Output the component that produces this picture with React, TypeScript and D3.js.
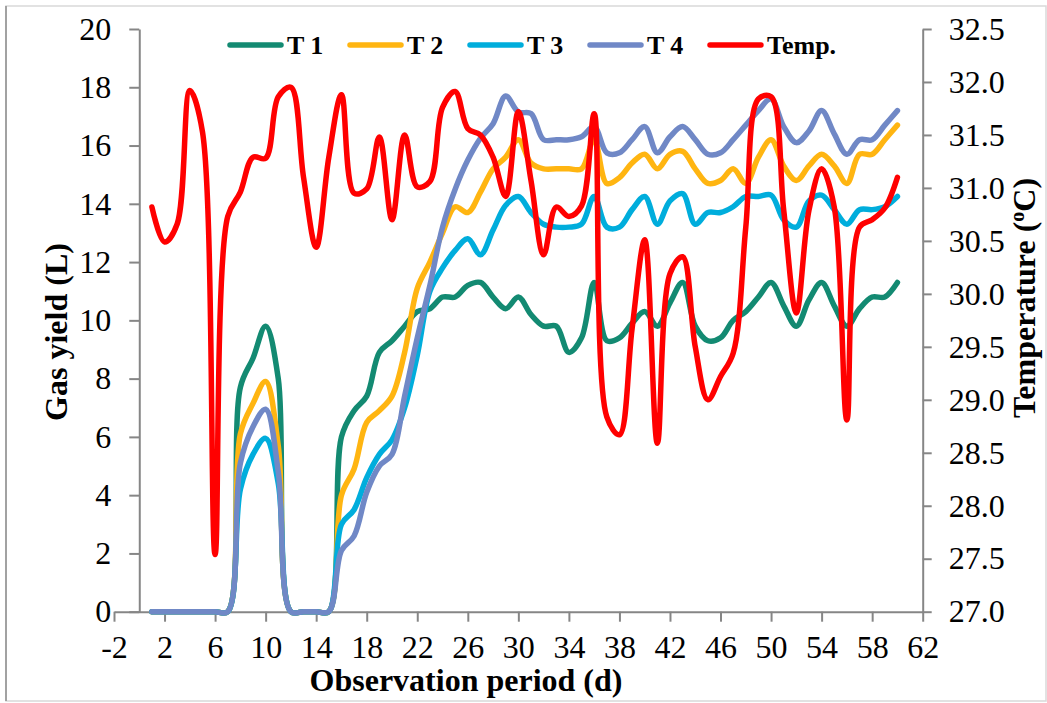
import React, { useEffect, useRef } from 'react';
import * as d3 from 'd3';

// observation day
const days = [
  1, 2, 3, 4, 5, 6, 7, 8, 9, 10, 11, 12, 13, 14, 15, 16, 17, 18, 19, 20,
  21, 22, 23, 24, 25, 26, 27, 28, 29, 30, 31, 32, 33, 34, 35, 36, 37, 38, 39, 40,
  41, 42, 43, 44, 45, 46, 47, 48, 49, 50, 51, 52, 53, 54, 55, 56, 57, 58, 59, 60,
];

// gas yield (L)
const t1 = [
  0, 0, 0, 0, 0, 0, 0, 7.7, 8.7, 9.8, 8.0, 0, 0, 0, 0, 6.0, 6.9, 7.4, 8.9, 9.3,
  9.8, 10.3, 10.4, 10.8, 10.8, 11.2, 11.3, 10.8, 10.4, 10.8, 10.2, 9.8, 9.8, 8.9, 9.4, 11.3, 9.3, 9.4, 9.9, 10.3,
  9.8, 10.6, 11.3, 9.8, 9.3, 9.4, 10.0, 10.3, 10.8, 11.3, 10.5, 9.8, 10.7, 11.3, 10.5, 9.8, 10.4, 10.8, 10.8, 11.3,
];
const t2 = [
  0, 0, 0, 0, 0, 0, 0, 6.1, 7.15, 7.9, 5.7, 0, 0, 0, 0, 4.0, 4.9, 6.5, 6.9, 7.4,
  8.9, 11.1, 12.0, 13.0, 13.9, 13.7, 14.4, 15.2, 15.6, 16.2, 15.4, 15.2, 15.2, 15.2, 15.2, 16.2, 14.7, 14.9, 15.4, 15.7,
  15.2, 15.7, 15.8, 15.2, 14.7, 14.8, 15.2, 14.7, 15.6, 16.2, 15.3, 14.8, 15.3, 15.7, 15.3, 14.7, 15.7, 15.7, 16.2, 16.7,
];
const t3 = [
  0, 0, 0, 0, 0, 0, 0, 4.2, 5.4, 5.95, 4.4, 0, 0, 0, 0, 3.0, 3.5, 4.6, 5.4, 5.9,
  7.0, 8.8, 11.0, 11.8, 12.4, 12.8, 12.25, 13.1, 13.95, 14.25, 13.7, 13.3, 13.2, 13.2, 13.3, 14.25, 13.2, 13.2, 13.8, 14.25,
  13.3, 14.1, 14.35, 13.3, 13.7, 13.7, 13.9, 14.25, 14.25, 14.3, 13.45, 13.2, 14.1, 14.3, 13.8, 13.3, 13.8, 13.8, 13.9, 14.25,
];
const t4 = [
  0, 0, 0, 0, 0, 0, 0, 5.1, 6.35, 6.95, 4.8, 0, 0, 0, 0, 2.1, 2.6, 4.1, 5.0, 5.4,
  7.4, 9.4, 11.2, 13.2, 14.5, 15.5, 16.25, 16.75, 17.7, 17.15, 17.1, 16.2, 16.2, 16.2, 16.3, 16.65, 15.75, 15.75, 16.2, 16.65,
  15.75, 16.3, 16.65, 16.2, 15.7, 15.75, 16.2, 16.7, 17.2, 17.6, 16.65, 16.1, 16.5, 17.2, 16.4, 15.7, 16.2, 16.2, 16.7, 17.2,
];

// temperature (ºC)
const temp = [
  30.82, 30.49, 30.66, 31.92, 31.53, 27.54, 30.73, 30.96, 31.29, 31.28, 31.86, 31.95, 31.1, 30.44, 31.29, 31.88, 30.95, 30.99, 31.48, 30.7,
  31.5, 31.01, 31.06, 31.76, 31.91, 31.56, 31.5, 31.29, 30.92, 31.72, 31.07, 30.37, 30.82, 30.73, 30.83, 31.7, 28.84, 28.67, 29.67, 30.51,
  28.59, 30.19, 30.35, 29.5, 29.0, 29.22, 29.44, 30.63, 31.84, 31.86, 30.79, 29.82, 30.79, 31.18, 30.82, 28.81, 30.63, 30.7, 30.81, 31.1,
];

const xTicks = [-2, 2, 6, 10, 14, 18, 22, 26, 30, 34, 38, 42, 46, 50, 54, 58, 62];
const yTicks = [0, 2, 4, 6, 8, 10, 12, 14, 16, 18, 20];
const tempTicks = [27, 27.5, 28, 28.5, 29, 29.5, 30, 30.5, 31, 31.5, 32, 32.5];

const series = [
  { name: 'T 1', values: t1, color: '#138a72' },
  { name: 'T 2', values: t2, color: '#ffb511' },
  { name: 'T 3', values: t3, color: '#00addc' },
  { name: 'T 4', values: t4, color: '#7088c6' },
];

const FONT = '"Liberation Serif", "Times New Roman", serif';
const AXIS = '#868686';
const LW = 5.5;

const App: React.FC = () => {
  const ref = useRef<SVGSVGElement>(null);

  useEffect(() => {
    if (!ref.current) return;
    const svg = d3.select(ref.current);
    svg.selectAll('*').remove();

    const x = d3.scaleLinear().domain([-2, 62]).range([114, 922.7]);
    const y = d3.scaleLinear().domain([0, 20]).range([611.7, 29]);
    const yT = d3.scaleLinear().domain([27, 32.5]).range([611.7, 29]);

    // chart border
    svg.append('rect')
      .attr('x', 6).attr('y', 6).attr('width', 1040).attr('height', 695)
      .attr('fill', '#fff').attr('stroke', '#d9d9d9').attr('stroke-width', 1.5);
    svg.append('line')
      .attr('x1', 6).attr('x2', 6).attr('y1', 6).attr('y2', 701)
      .attr('stroke', '#8c8c8c').attr('stroke-width', 1.5);

    // axes
    const styleAxis = (g: d3.Selection<SVGGElement, unknown, null, undefined>) => {
      g.select('.domain').attr('stroke', AXIS).attr('stroke-width', 2);
      g.selectAll('.tick line').attr('stroke', AXIS).attr('stroke-width', 2);
      g.selectAll('.tick text')
        .attr('fill', '#000')
        .attr('font-family', FONT)
        .attr('font-size', 32);
    };

    const gx = svg.append('g')
      .attr('transform', `translate(0,${y(0)})`)
      .call(d3.axisBottom(x).tickValues(xTicks).tickSize(10).tickSizeOuter(0).tickPadding(14)
        .tickFormat((d) => String(d)))
      .call(styleAxis);
    gx.selectAll('.tick text').attr('dy', '0.71em');

    svg.append('g')
      .attr('transform', `translate(${x(0)},0)`)
      .call(d3.axisLeft(y).tickValues(yTicks).tickSize(10).tickSizeOuter(0).tickPadding(18))
      .call(styleAxis);

    svg.append('g')
      .attr('transform', `translate(${x(62)},0)`)
      .call(d3.axisRight(yT).tickValues(tempTicks).tickSize(9).tickSizeOuter(0).tickPadding(17)
        .tickFormat(d3.format('.1f')))
      .call(styleAxis);

    // smoothed lines
    const line = d3.line<number>()
      .x((_, i) => x(days[i]))
      .y((d) => y(d))
      .curve(d3.curveCatmullRom.alpha(0.5));

    const tLine = d3.line<number>()
      .x((_, i) => x(days[i]))
      .y((d) => yT(d))
      .curve(d3.curveCatmullRom.alpha(0.5));

    series.forEach((s) => {
      svg.append('path')
        .attr('d', line(s.values))
        .attr('fill', 'none')
        .attr('stroke', s.color)
        .attr('stroke-width', LW)
        .attr('stroke-linejoin', 'round')
        .attr('stroke-linecap', 'round');
    });

    svg.append('path')
      .attr('d', tLine(temp))
      .attr('fill', 'none')
      .attr('stroke', '#ff0000')
      .attr('stroke-width', LW)
      .attr('stroke-linejoin', 'round')
      .attr('stroke-linecap', 'round');

    // legend
    const legendItems = [...series.map((s) => ({ name: s.name, color: s.color })), { name: 'Temp.', color: '#ff0000' }];
    const legend = svg.append('g')
      .selectAll('g')
      .data(legendItems)
      .enter()
      .append('g')
      .attr('transform', (_, i) => `translate(${228 + i * 120},45)`);
    legend.append('line')
      .attr('x1', 2).attr('x2', 53)
      .attr('stroke', (d) => d.color)
      .attr('stroke-width', LW)
      .attr('stroke-linecap', 'round');
    legend.append('text')
      .attr('x', 59).attr('y', 8.5)
      .attr('font-family', FONT).attr('font-size', 26).attr('font-weight', 'bold')
      .text((d) => d.name);

    // axis titles
    svg.append('text')
      .attr('x', 466).attr('y', 691)
      .attr('text-anchor', 'middle')
      .attr('font-family', FONT).attr('font-size', 32).attr('font-weight', 'bold')
      .text('Observation period (d)');

    svg.append('text')
      .attr('transform', 'translate(67,332) rotate(-90)')
      .attr('text-anchor', 'middle')
      .attr('font-family', FONT).attr('font-size', 32).attr('font-weight', 'bold')
      .text('Gas yield (L)');

    const rt = svg.append('text')
      .attr('transform', 'translate(1035,298) rotate(-90)')
      .attr('text-anchor', 'middle')
      .attr('font-family', FONT).attr('font-size', 32).attr('font-weight', 'bold');
    rt.append('tspan').text('Temperature (');
    rt.append('tspan').attr('font-size', 20).attr('dy', -11).text('o');
    rt.append('tspan').attr('dy', 11).text('C)');

    return () => {
      svg.selectAll('*').remove();
    };
  }, []);

  return (
    <svg
      ref={ref}
      width={1047}
      height={703}
      style={{ position: 'absolute', left: 0, top: 0, background: '#fff' }}
    />
  );
};

export default App;
